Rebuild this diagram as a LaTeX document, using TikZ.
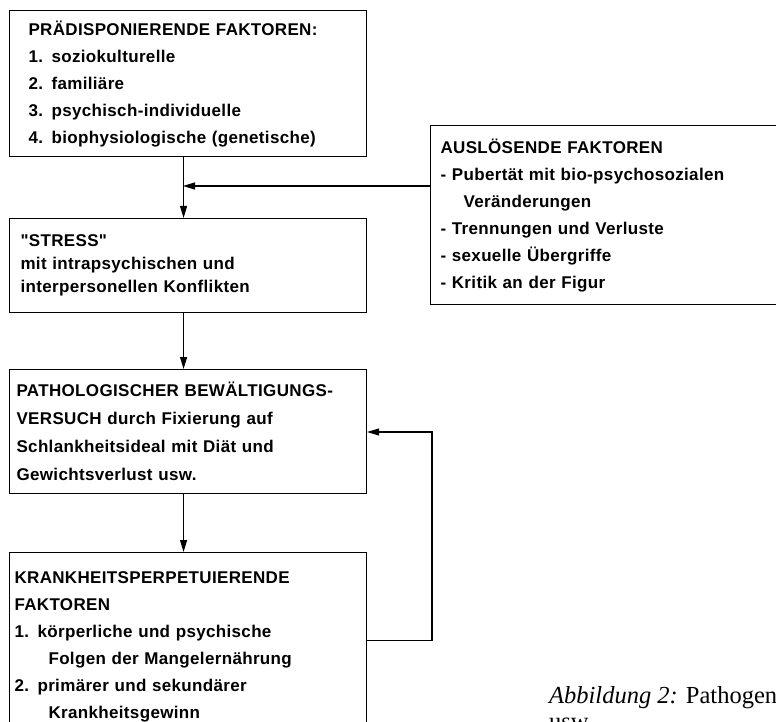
\documentclass[tikz,border=0pt]{standalone}
\usepackage{fontspec}
\usepackage{tikz}
\usetikzlibrary{positioning}
\usetikzlibrary{arrows.meta,calc}
\newfontfamily\boxfont[LetterSpace=2]{Liberation Sans}
\newfontfamily\capfont{Liberation Serif}
\tikzstyle{box}=[rectangle,draw,line width=1.1pt,anchor=north west,align=left,inner ysep=0pt,font=\boxfont\bfseries\fontsize{17}{27}\selectfont]
\tikzstyle{edge} = [draw,line width=1.1pt,-{Triangle[length=12pt,width=7pt]}]
\tikzset{caption/.style={anchor=north west,inner sep=0pt,align=left,font=\capfont\fontsize{24.5}{26}\selectfont}}

\begin{document}
\begin{tikzpicture}[x=1pt,y=-1pt]
 \useasboundingbox (0,0) rectangle (776,722);

 %B0
 \node[box,inner xsep=19pt,text width=319pt,minimum height=146pt] (praed) at (9,10)
   {PRÄDISPONIERENDE FAKTOREN:\\1. soziokulturelle\\2. familiäre\\3. psychisch-individuelle\\4. biophysiologische (genetische)};

 %B1
 \node[box,inner xsep=11pt,text width=335pt,minimum height=94pt,
   font=\boxfont\bfseries\fontsize{17}{23}\selectfont] (stress) at (9,218)
   {"STRESS"\\mit intrapsychischen und\\interpersonellen Konflikten};

 %B2
 \node[box,inner xsep=10pt,text width=340pt,minimum height=179pt] (ausl) at (430,125)
   {AUSLÖSENDE FAKTOREN\\- Pubertät mit bio-psychosozialen\\\hspace*{23pt}Veränderungen\\- Trennungen und Verluste\\- sexuelle Übergriffe\\- Kritik an der Figur};

 %B3
 \node[box,inner xsep=7pt,text width=343pt,minimum height=124pt,
   font=\boxfont\bfseries\fontsize{17}{28}\selectfont] (patho) at (9,369)
   {PATHOLOGISCHER BEWÄLTIGUNGS-\\VERSUCH durch Fixierung auf\\Schlankheitsideal mit Diät und\\Gewichtsverlust usw.};

 %B4
 \node[box,inner xsep=5pt,text width=347pt,minimum height=189pt] (krank) at (9,552)
   {KRANKHEITSPERPETUIERENDE\\FAKTOREN\\1. körperliche und psychische\\\hspace*{34pt}Folgen der Mangelernährung\\2. primärer und sekundärer\\\hspace*{34pt}Krankheitsgewinn};

 \coordinate (j1) at (183,186);
 \coordinate (back) at (432,432);

 \foreach \source/ \dest in {praed/stress, stress/patho, patho/krank}
        \path[edge] ([xshift=-4.5pt]\source.south) -- ([xshift=-4.5pt]\dest.north);

 \path[edge] (ausl.west |- j1) -- (j1);
 \path[edge] ([yshift=6.5pt]krank.east) -| (back) -- (patho.east |- back);

 \node[caption] (cap) at (549,686) {\textit{Abbildung 2:} Pathogen\\usw.};

\end{tikzpicture}
\end{document}
